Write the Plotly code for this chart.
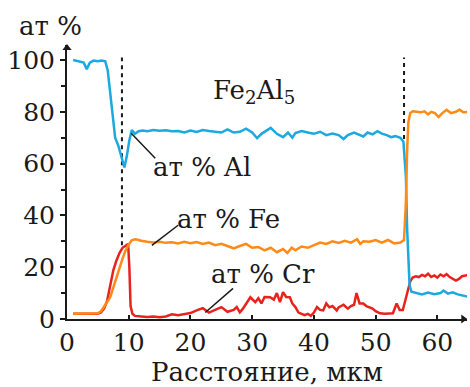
import plotly.graph_objects as go

# Concentration profiles across the Fe2Al5 layer (distance in µm, at. %)
al_x = [1, 2, 2.7, 3.2, 3.7, 4.3, 5, 5.6, 6.2, 6.6, 7, 7.4, 7.8, 8.3, 8.8, 9.3, 9.7, 10.1, 10.5,
        11, 11.6, 12.3, 13, 14, 15, 16, 17, 18, 19, 20, 21, 22, 23, 24, 25, 26, 27, 28, 29, 30,
        30.8, 31.5, 32.2, 33, 34, 35, 35.8, 36.5, 37, 38, 39, 40, 41, 42, 43, 44, 44.8, 45.5,
        46.5, 47, 48, 48.7, 49.5, 50.3, 51, 51.8, 52.5, 53.2, 54, 54.5, 54.9, 55.1, 55.3, 55.5,
        55.8, 56.5, 57.5, 58.5, 59.5, 60.5, 61, 61.7, 62.5, 63.3, 64, 65]
al_y = [100, 99.5, 99, 96.5, 99, 99.8, 99.5, 99.8, 99.5, 96, 88, 78, 70, 67, 63, 58.5, 63, 69, 73,
        71.5, 72.5, 72.8, 72.5, 73, 72.7, 72.9, 72.5, 72.6, 72, 72.8, 72.2, 73, 72.6, 72.4, 72,
        73.2, 72, 72.3, 73.5, 72, 69.8, 71.5, 72.6, 73.8, 71.5, 70.2, 72, 70, 71.8, 72.6, 72,
        71.5, 72.3, 71, 71.6, 71, 69.5, 71, 72, 71.4, 70.5, 72, 71.3, 72.5, 71.6, 71, 70.2, 70.6,
        70, 68.5, 55, 35, 20, 13, 10.5, 10, 9.5, 10.2, 9.6, 10, 11, 9.8, 10.3, 9.5, 9.2, 8.6]

fe_x = [1, 2, 3, 4, 5, 5.5, 6, 6.5, 7, 7.5, 8, 8.5, 9, 9.5, 10, 10.5, 11, 11.5, 12, 13, 14, 15,
        16, 17, 18, 19, 20, 21, 22, 23, 24, 25, 26, 27, 28, 29, 30, 31, 32, 33, 34, 35, 35.7,
        36.4, 37, 38, 39, 40, 41, 42, 43, 44, 45, 46, 47, 47.5, 48, 49, 50, 51, 52, 53, 54, 54.6,
        54.9, 55.1, 55.3, 55.6, 56, 56.7, 57.3, 57.9, 58.5, 59, 59.6, 60.2, 60.8, 61.5, 62.2,
        63, 63.6, 64.2, 65]
fe_y = [2, 2, 2, 2, 2.2, 3, 4.6, 6.5, 8.4, 12.3, 16, 19.5, 23.3, 26.5, 28.8, 30.4, 30.8, 30.6,
        30.2, 29.8, 29.5, 29.8, 29.4, 29.6, 29.2, 29.8, 29.3, 29.7, 29, 29.5, 28.5, 29, 28.3, 27.3,
        28.2, 29, 27.5, 27.8, 26.5, 27.5, 25.8, 27, 25.5, 27.5, 26.5, 28, 27.5, 28.5, 29.5, 29,
        30, 29.4, 30.2, 29.5, 30.8, 29, 30, 29.8, 30.5, 29.5, 30.5, 29.2, 29.5, 30.5, 45, 65, 76,
        79.5, 80.2, 80, 79.8, 80.2, 79, 80, 79.5, 78, 79.5, 80.8, 79.5, 80, 80.8, 79.8, 80]

cr_x = [1, 2, 3, 4, 5, 5.5, 6, 6.5, 7, 7.5, 8, 8.5, 9, 9.5, 9.9, 10.1, 10.3, 10.6, 11, 12, 13, 14,
        15, 16, 17, 18, 19, 20, 21, 22, 23, 24, 25, 26, 27, 27.5, 28, 28.5, 29, 29.7, 30.5, 31,
        31.5, 32, 32.9, 33.5, 34, 34.5, 35, 35.5, 36.1, 36.5, 37, 37.5, 38, 38.5, 39, 39.5, 40,
        40.5, 41, 41.5, 42, 42.5, 43, 43.7, 44, 44.8, 45.5, 46, 46.5, 46.9, 47.4, 48, 48.5, 49,
        49.5, 50, 50.7, 51.5, 52.2, 52.8, 53.4, 53.9, 54.4, 54.8, 55.2, 55.6, 56, 56.5, 57, 57.5,
        58, 58.5, 59, 59.5, 60, 60.5, 61, 61.5, 62, 62.5, 63, 63.5, 64, 65]
cr_y = [2, 2, 2, 2, 2, 2.5, 4, 7, 13, 18.8, 22.5, 25.5, 27.5, 28.5, 29, 20, 5, 2, 1.2, 1, 0.8, 1,
        0.7, 1, 1.8, 1.5, 2, 2.3, 3.3, 4.2, 2.5, 3.5, 4.6, 2.8, 3.5, 4.6, 2.6, 4, 6, 8.4, 6.5, 8,
        6, 8.5, 8.4, 7.5, 10, 6.5, 10.4, 8.5, 8.4, 6, 4.6, 2.5, 2, 1.5, 2, 1.2, 2.5, 4.6, 3.5, 3.3,
        6, 4.5, 5, 3.3, 4.5, 5.5, 4, 5, 5.5, 10, 6, 6, 5, 4.6, 4, 3, 2.2, 2, 2.2, 2.2, 6, 3.5,
        3.5, 7, 11, 14.5, 16, 16.5, 16.2, 17, 16.5, 17.5, 16.2, 16.8, 16, 17.2, 16.5, 17.3, 16.2,
        15.5, 14.8, 15.5, 16.5, 17]

x_ticks = [0, 10, 20, 30, 40, 50, 60]
y_ticks = [0, 20, 40, 60, 80, 100]
x_range = [0, 64.8]
y_range = [0, 105.8]

# Phase boundaries (dashed) and their vertical extent
boundary_x = [8.9, 54.6]
boundary_top = [101, 101]
boundary_bottom = [28.5, 69.5]

BLUE = "#1ba9df"
ORANGE = "#ff8a17"
RED = "#e8231d"
INK = "#1a1a1a"
FONT = "'DejaVu Serif', serif"

fig = go.Figure()
for bx, top, bot in zip(boundary_x, boundary_top, boundary_bottom):
    fig.add_trace(go.Scatter(x=[bx, bx], y=[bot, top], mode="lines",
                             line=dict(color=INK, width=2, dash="4px,4px"),
                             hoverinfo="skip", showlegend=False))
fig.add_trace(go.Scatter(x=cr_x, y=cr_y, mode="lines", line=dict(color=RED, width=2.5),
                         showlegend=False))
fig.add_trace(go.Scatter(x=al_x, y=al_y, mode="lines", line=dict(color=BLUE, width=2.5),
                         showlegend=False))
fig.add_trace(go.Scatter(x=fe_x, y=fe_y, mode="lines", line=dict(color=ORANGE, width=2.5),
                         showlegend=False))

# Arrowheads at the ends of both axes
fig.add_trace(go.Scatter(x=[x_range[1] - 0.6, x_range[0]], y=[y_range[0], y_range[1] - 1.2],
                         mode="markers", cliponaxis=False, hoverinfo="skip", showlegend=False,
                         marker=dict(symbol=["triangle-right", "triangle-up"], size=8,
                                     color=INK, line=dict(width=0))))

# Leader lines from the curves to their labels
leaders = [((10.4, 71.7), (14.3, 62.1)), ((13.75, 28.4), (18.0, 36.2)), ((22.4, 2.5), (26.9, 11.8))]
for (x0, y0), (x1, y1) in leaders:
    fig.add_shape(type="line", x0=x0, y0=y0, x1=x1, y1=y1, xref="x", yref="y",
                  line=dict(color=INK, width=1.5))

labels = [("ат % Al", 21.8, 58.6), ("ат % Fe", 26.2, 38.8), ("ат % Cr", 31.8, 17.2),
          ("Fe<sub>2</sub>Al<sub>5</sub>", 30.3, 88.0)]
for text, lx, ly in labels:
    fig.add_annotation(x=lx, y=ly, text=text, showarrow=False, xref="x", yref="y",
                       xanchor="center", yanchor="middle",
                       font=dict(family=FONT, size=26, color=INK))

# Y-axis unit label
fig.add_annotation(x=-0.042, y=1.07, xref="paper", yref="paper", text="ат %",
                   showarrow=False, xanchor="center", yanchor="middle",
                   font=dict(family=FONT, size=26, color=INK))

fig.update_layout(
    width=470, height=387,
    margin=dict(l=67, r=3, t=45, b=68),
    paper_bgcolor="white", plot_bgcolor="white",
    font=dict(family=FONT, size=26, color=INK),
    xaxis=dict(range=x_range, tickvals=x_ticks, showgrid=False, zeroline=False,
               showline=True, linecolor=INK, linewidth=2, ticks="inside", ticklen=4,
               tickwidth=1.5, tickcolor=INK,
               tickfont=dict(family=FONT, size=25, color=INK),
               title=dict(text="Расстояние, мкм", font=dict(family=FONT, size=26, color=INK),
                          standoff=8)),
    yaxis=dict(range=y_range, tickvals=y_ticks, showgrid=False, zeroline=False,
               showline=True, linecolor=INK, linewidth=2, ticks="outside", ticklen=5,
               tickwidth=1.5, tickcolor=INK,
               tickfont=dict(family=FONT, size=25, color=INK),
               minor=dict(tickvals=[10, 30, 50, 70, 90], ticks="outside", ticklen=4,
                          tickwidth=1.5, tickcolor=INK)),
)

fig.write_html("out.html")
